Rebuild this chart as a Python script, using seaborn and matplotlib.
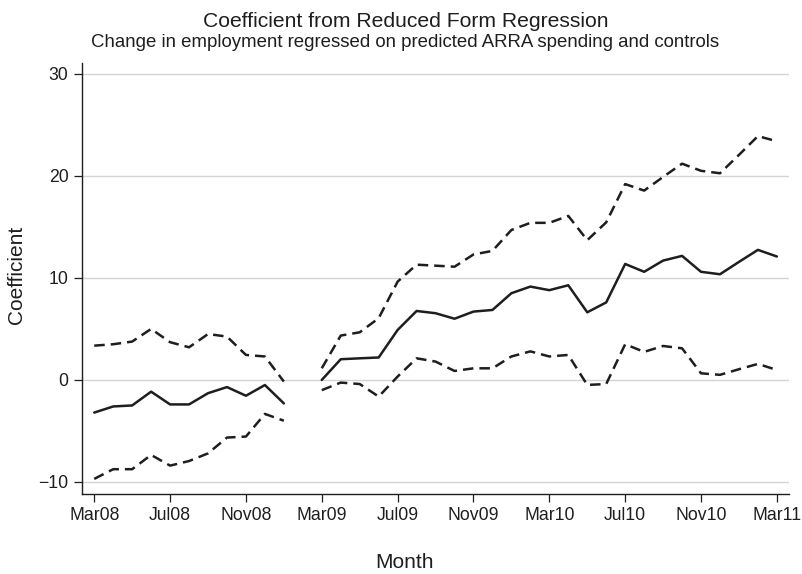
import matplotlib
matplotlib.use("Agg")
import matplotlib.pyplot as plt
import numpy as np
import pandas as pd
import seaborn as sns

# ---- data ----
month_labels = ["Mar08", "Apr08", "May08", "Jun08", "Jul08", "Aug08", "Sep08", "Oct08",
                "Nov08", "Dec08", "Jan09", "Feb09", "Mar09", "Apr09", "May09", "Jun09",
                "Jul09", "Aug09", "Sep09", "Oct09", "Nov09", "Dec09", "Jan10", "Feb10",
                "Mar10", "Apr10", "May10", "Jun10", "Jul10", "Aug10", "Sep10", "Oct10",
                "Nov10", "Dec10", "Jan11", "Feb11", "Mar11"]
segment = [1] * 11 + [0] + [2] * 25

coef = [-3.2, -2.6, -2.5, -1.15, -2.4, -2.4, -1.3, -0.7, -1.55, -0.5, -2.3,
        None,
        0.0, 2.03, 2.12, 2.2, 4.9, 6.76, 6.54, 6.0, 6.7, 6.86, 8.5, 9.15, 8.8,
        9.28, 6.63, 7.6, 11.37, 10.6, 11.7, 12.16, 10.6, 10.36, 11.57, 12.75, 12.1]
upper = [3.36, 3.5, 3.76, 5.0, 3.7, 3.2, 4.5, 4.25, 2.45, 2.3, -0.16,
         None,
         1.14, 4.35, 4.67, 6.05, 9.64, 11.3, 11.2, 11.1, 12.3, 12.65, 14.7, 15.4, 15.4,
         16.08, 13.7, 15.45, 19.2, 18.56, 19.9, 21.2, 20.5, 20.26, 22.06, 23.9, 23.4]
lower = [-9.7, -8.75, -8.75, -7.35, -8.4, -7.95, -7.2, -5.65, -5.55, -3.33, -4.0,
         None,
         -1.0, -0.26, -0.4, -1.63, 0.33, 2.12, 1.8, 0.88, 1.14, 1.14, 2.3, 2.8, 2.3,
         2.45, -0.49, -0.4, 3.5, 2.75, 3.33, 3.1, 0.65, 0.5, 1.05, 1.57, 0.98]

tick_labels = ["Mar08", "Jul08", "Nov08", "Mar09", "Jul09", "Nov09", "Mar10", "Jul10",
               "Nov10", "Mar11"]
y_ticks = [-10, 0, 10, 20, 30]

# ---- styling ----
sns.set_theme(style="white")
plt.rcParams["font.family"] = ["Liberation Sans", "DejaVu Sans"]
plt.rcParams["axes.unicode_minus"] = True

ink = "#1e1e1e"

df = pd.DataFrame({"label": month_labels, "seg": segment,
                   "coef": coef, "upper": upper, "lower": lower})
df["m"] = np.arange(len(df))
long = df.melt(id_vars=["label", "seg", "m"], value_vars=["coef", "upper", "lower"],
               var_name="series", value_name="value").dropna()
long = long[long["seg"] > 0]

fig = plt.figure(figsize=(8.02, 5.74), dpi=100)
ax = fig.add_axes([0.1019, 0.1394, 0.8819, 0.7514])

for name in ["coef", "upper", "lower"]:
    for s in [1, 2]:
        part = long[(long["series"] == name) & (long["seg"] == s)]
        if name == "coef":
            sns.lineplot(data=part, x="m", y="value", ax=ax, color=ink,
                         linewidth=1.8, estimator=None, sort=True)
        else:
            sns.lineplot(data=part, x="m", y="value", ax=ax, color=ink,
                         linewidth=1.8, estimator=None, sort=True,
                         linestyle=(0, (4.2, 2.4)))

xt = [month_labels.index(t) for t in tick_labels]
ax.set_xticks(xt)
ax.set_xticklabels(tick_labels)
ax.set_yticks(y_ticks)
ax.set_xlim(-0.66, 36.64)
ax.set_ylim(-11.18, 31.1)

ax.grid(axis="y", color="#d4d4d4", linewidth=1.0)
ax.grid(axis="x", visible=False)
ax.set_axisbelow(True)

for side in ["top", "right"]:
    ax.spines[side].set_visible(False)
for side in ["left", "bottom"]:
    ax.spines[side].set_color(ink)
    ax.spines[side].set_linewidth(1.0)

ax.tick_params(axis="both", which="major", direction="out", length=5.5, width=0.9,
               color=ink, labelsize=12.7, labelcolor=ink, pad=4,
               left=True, bottom=True)
ax.set_xlabel("")
ax.set_ylabel("")

fig.text(16.7 / 802, 1 - 275 / 574, "Coefficient", rotation=90, ha="center",
         va="center", fontsize=15, color=ink)
fig.text(404.5 / 802, 1 - 568.5 / 574, "Month", ha="center", va="baseline",
         fontsize=15, color=ink)
fig.text(405.5 / 802, 1 - 27.3 / 574, "Coefficient from Reduced Form Regression",
         ha="center", va="baseline", fontsize=15.2, color=ink)
fig.text(405 / 802, 1 - 46.7 / 574,
         "Change in employment regressed on predicted ARRA spending and controls",
         ha="center", va="baseline", fontsize=13.4, color=ink)

fig.savefig("out.png", dpi=100, facecolor="white")
